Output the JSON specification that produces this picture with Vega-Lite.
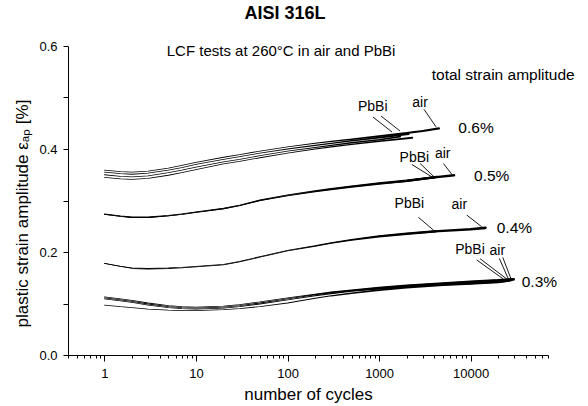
{
 "$schema": "https://vega.github.io/schema/vega-lite/v6.json",
 "width": 480, "height": 309,
 "autosize": "none",
 "padding": {"left": 68, "top": 46, "right": 40, "bottom": 51},
 "background": "white",
 "title": {"text": "AISI 316L", "fontSize": 18, "fontWeight": "bold", "font": "Liberation Sans", "anchor": "middle", "dx": -23, "offset": 17, "color": "black"},
 "config": {
  "view": {"stroke": null},
  "font": "Liberation Sans",
  "axis": {"grid": false, "domainColor": "black", "tickColor": "black", "labelColor": "black", "titleColor": "black", "labelFontSize": 13, "titleFontSize": 17, "titleFontWeight": "normal", "labelFont": "Liberation Sans", "titleFont": "Liberation Sans"}
 },
 "datasets": {
  "curves": [
   {"c":"a6_1","N":1,"v":0.359},{"c":"a6_1","N":1.5,"v":0.356},{"c":"a6_1","N":2,"v":0.355},{"c":"a6_1","N":3,"v":0.357},{"c":"a6_1","N":5,"v":0.363},{"c":"a6_1","N":7,"v":0.368},{"c":"a6_1","N":10,"v":0.374},{"c":"a6_1","N":20,"v":0.384},{"c":"a6_1","N":30,"v":0.389},{"c":"a6_1","N":50,"v":0.396},{"c":"a6_1","N":100,"v":0.404},{"c":"a6_1","N":200,"v":0.411},{"c":"a6_1","N":300,"v":0.415},{"c":"a6_1","N":500,"v":0.419},{"c":"a6_1","N":1000,"v":0.425},{"c":"a6_1","N":2000,"v":0.431},{"c":"a6_1","N":3000,"v":0.435},{"c":"a6_1","N":4500,"v":0.440},
   {"c":"a6_2","N":1,"v":0.355},{"c":"a6_2","N":1.5,"v":0.352},{"c":"a6_2","N":2,"v":0.351},{"c":"a6_2","N":3,"v":0.353},{"c":"a6_2","N":5,"v":0.359},{"c":"a6_2","N":7,"v":0.364},{"c":"a6_2","N":10,"v":0.370},{"c":"a6_2","N":20,"v":0.380},{"c":"a6_2","N":30,"v":0.385},{"c":"a6_2","N":50,"v":0.392},{"c":"a6_2","N":100,"v":0.400},{"c":"a6_2","N":200,"v":0.407},{"c":"a6_2","N":300,"v":0.411},{"c":"a6_2","N":500,"v":0.416},{"c":"a6_2","N":1000,"v":0.422},{"c":"a6_2","N":2100,"v":0.429},
   {"c":"a6_3","N":1,"v":0.350},{"c":"a6_3","N":1.5,"v":0.347},{"c":"a6_3","N":2,"v":0.346},{"c":"a6_3","N":3,"v":0.348},{"c":"a6_3","N":5,"v":0.354},{"c":"a6_3","N":7,"v":0.359},{"c":"a6_3","N":10,"v":0.365},{"c":"a6_3","N":20,"v":0.375},{"c":"a6_3","N":30,"v":0.380},{"c":"a6_3","N":50,"v":0.387},{"c":"a6_3","N":100,"v":0.396},{"c":"a6_3","N":200,"v":0.403},{"c":"a6_3","N":300,"v":0.407},{"c":"a6_3","N":500,"v":0.412},{"c":"a6_3","N":1000,"v":0.418},{"c":"a6_3","N":1700,"v":0.424},
   {"c":"a6_4","N":1,"v":0.345},{"c":"a6_4","N":1.5,"v":0.342},{"c":"a6_4","N":2,"v":0.341},{"c":"a6_4","N":3,"v":0.343},{"c":"a6_4","N":5,"v":0.349},{"c":"a6_4","N":7,"v":0.354},{"c":"a6_4","N":10,"v":0.360},{"c":"a6_4","N":20,"v":0.371},{"c":"a6_4","N":30,"v":0.376},{"c":"a6_4","N":50,"v":0.383},{"c":"a6_4","N":100,"v":0.392},{"c":"a6_4","N":200,"v":0.400},{"c":"a6_4","N":300,"v":0.404},{"c":"a6_4","N":500,"v":0.409},{"c":"a6_4","N":1000,"v":0.415},{"c":"a6_4","N":2300,"v":0.422},
   {"c":"a5_1","N":1,"v":0.274},{"c":"a5_1","N":1.5,"v":0.270},{"c":"a5_1","N":2,"v":0.268},{"c":"a5_1","N":3,"v":0.268},{"c":"a5_1","N":5,"v":0.271},{"c":"a5_1","N":7,"v":0.274},{"c":"a5_1","N":10,"v":0.278},{"c":"a5_1","N":20,"v":0.285},{"c":"a5_1","N":30,"v":0.291},{"c":"a5_1","N":50,"v":0.301},{"c":"a5_1","N":100,"v":0.311},{"c":"a5_1","N":200,"v":0.319},{"c":"a5_1","N":300,"v":0.323},{"c":"a5_1","N":500,"v":0.328},{"c":"a5_1","N":1000,"v":0.334},{"c":"a5_1","N":2000,"v":0.339},{"c":"a5_1","N":4000,"v":0.345},{"c":"a5_1","N":6600,"v":0.349},
   {"c":"a5_2","N":1,"v":0.273},{"c":"a5_2","N":1.5,"v":0.269},{"c":"a5_2","N":2,"v":0.267},{"c":"a5_2","N":3,"v":0.267},{"c":"a5_2","N":5,"v":0.270},{"c":"a5_2","N":7,"v":0.273},{"c":"a5_2","N":10,"v":0.277},{"c":"a5_2","N":20,"v":0.284},{"c":"a5_2","N":30,"v":0.290},{"c":"a5_2","N":50,"v":0.300},{"c":"a5_2","N":100,"v":0.309},{"c":"a5_2","N":200,"v":0.317},{"c":"a5_2","N":300,"v":0.321},{"c":"a5_2","N":500,"v":0.326},{"c":"a5_2","N":1000,"v":0.332},{"c":"a5_2","N":2000,"v":0.338},{"c":"a5_2","N":4000,"v":0.345},
   {"c":"a5_3","N":1,"v":0.273},{"c":"a5_3","N":1.5,"v":0.269},{"c":"a5_3","N":2,"v":0.267},{"c":"a5_3","N":3,"v":0.267},{"c":"a5_3","N":5,"v":0.270},{"c":"a5_3","N":7,"v":0.273},{"c":"a5_3","N":10,"v":0.277},{"c":"a5_3","N":20,"v":0.284},{"c":"a5_3","N":30,"v":0.290},{"c":"a5_3","N":50,"v":0.300},{"c":"a5_3","N":100,"v":0.310},{"c":"a5_3","N":200,"v":0.318},{"c":"a5_3","N":300,"v":0.322},{"c":"a5_3","N":500,"v":0.327},{"c":"a5_3","N":1000,"v":0.333},{"c":"a5_3","N":2000,"v":0.338},{"c":"a5_3","N":4300,"v":0.346},
   {"c":"a4_1","N":1,"v":0.178},{"c":"a4_1","N":1.5,"v":0.172},{"c":"a4_1","N":2,"v":0.169},{"c":"a4_1","N":3,"v":0.168},{"c":"a4_1","N":5,"v":0.169},{"c":"a4_1","N":7,"v":0.170},{"c":"a4_1","N":10,"v":0.172},{"c":"a4_1","N":20,"v":0.176},{"c":"a4_1","N":30,"v":0.182},{"c":"a4_1","N":50,"v":0.191},{"c":"a4_1","N":100,"v":0.203},{"c":"a4_1","N":200,"v":0.212},{"c":"a4_1","N":300,"v":0.218},{"c":"a4_1","N":500,"v":0.224},{"c":"a4_1","N":1000,"v":0.231},{"c":"a4_1","N":2000,"v":0.236},{"c":"a4_1","N":4000,"v":0.240},{"c":"a4_1","N":10000,"v":0.244},{"c":"a4_1","N":14500,"v":0.247},
   {"c":"a4_2","N":1,"v":0.178},{"c":"a4_2","N":1.5,"v":0.172},{"c":"a4_2","N":2,"v":0.168},{"c":"a4_2","N":3,"v":0.167},{"c":"a4_2","N":5,"v":0.168},{"c":"a4_2","N":7,"v":0.169},{"c":"a4_2","N":10,"v":0.171},{"c":"a4_2","N":20,"v":0.175},{"c":"a4_2","N":30,"v":0.181},{"c":"a4_2","N":50,"v":0.190},{"c":"a4_2","N":100,"v":0.202},{"c":"a4_2","N":200,"v":0.211},{"c":"a4_2","N":300,"v":0.217},{"c":"a4_2","N":500,"v":0.223},{"c":"a4_2","N":1000,"v":0.230},{"c":"a4_2","N":2000,"v":0.235},{"c":"a4_2","N":4150,"v":0.240},
   {"c":"a3_1","N":1,"v":0.113},{"c":"a3_1","N":1.5,"v":0.109},{"c":"a3_1","N":2,"v":0.106},{"c":"a3_1","N":3,"v":0.101},{"c":"a3_1","N":5,"v":0.096},{"c":"a3_1","N":7,"v":0.094},{"c":"a3_1","N":10,"v":0.093},{"c":"a3_1","N":20,"v":0.095},{"c":"a3_1","N":30,"v":0.098},{"c":"a3_1","N":50,"v":0.103},{"c":"a3_1","N":100,"v":0.111},{"c":"a3_1","N":200,"v":0.118},{"c":"a3_1","N":300,"v":0.122},{"c":"a3_1","N":500,"v":0.126},{"c":"a3_1","N":1000,"v":0.131},{"c":"a3_1","N":2000,"v":0.135},{"c":"a3_1","N":5000,"v":0.139},{"c":"a3_1","N":10000,"v":0.142},{"c":"a3_1","N":20000,"v":0.145},{"c":"a3_1","N":29500,"v":0.147},
   {"c":"a3_2","N":1,"v":0.111},{"c":"a3_2","N":1.5,"v":0.107},{"c":"a3_2","N":2,"v":0.104},{"c":"a3_2","N":3,"v":0.099},{"c":"a3_2","N":5,"v":0.094},{"c":"a3_2","N":7,"v":0.092},{"c":"a3_2","N":10,"v":0.091},{"c":"a3_2","N":20,"v":0.093},{"c":"a3_2","N":30,"v":0.096},{"c":"a3_2","N":50,"v":0.101},{"c":"a3_2","N":100,"v":0.109},{"c":"a3_2","N":200,"v":0.117},{"c":"a3_2","N":300,"v":0.121},{"c":"a3_2","N":500,"v":0.125},{"c":"a3_2","N":1000,"v":0.130},{"c":"a3_2","N":2000,"v":0.134},{"c":"a3_2","N":5000,"v":0.138},{"c":"a3_2","N":10000,"v":0.141},{"c":"a3_2","N":20000,"v":0.144},{"c":"a3_2","N":27700,"v":0.146},
   {"c":"a3_3","N":1,"v":0.109},{"c":"a3_3","N":1.5,"v":0.105},{"c":"a3_3","N":2,"v":0.102},{"c":"a3_3","N":3,"v":0.097},{"c":"a3_3","N":5,"v":0.092},{"c":"a3_3","N":7,"v":0.090},{"c":"a3_3","N":10,"v":0.089},{"c":"a3_3","N":20,"v":0.091},{"c":"a3_3","N":30,"v":0.094},{"c":"a3_3","N":50,"v":0.099},{"c":"a3_3","N":100,"v":0.107},{"c":"a3_3","N":200,"v":0.115},{"c":"a3_3","N":300,"v":0.119},{"c":"a3_3","N":500,"v":0.124},{"c":"a3_3","N":1000,"v":0.129},{"c":"a3_3","N":2000,"v":0.133},{"c":"a3_3","N":5000,"v":0.137},{"c":"a3_3","N":10000,"v":0.140},{"c":"a3_3","N":20000,"v":0.143},{"c":"a3_3","N":26500,"v":0.145},
   {"c":"a3_4","N":1,"v":0.097},{"c":"a3_4","N":1.5,"v":0.094},{"c":"a3_4","N":2,"v":0.092},{"c":"a3_4","N":3,"v":0.089},{"c":"a3_4","N":5,"v":0.087},{"c":"a3_4","N":7,"v":0.086},{"c":"a3_4","N":10,"v":0.086},{"c":"a3_4","N":20,"v":0.088},{"c":"a3_4","N":30,"v":0.090},{"c":"a3_4","N":50,"v":0.094},{"c":"a3_4","N":100,"v":0.101},{"c":"a3_4","N":200,"v":0.110},{"c":"a3_4","N":300,"v":0.115},{"c":"a3_4","N":500,"v":0.120},{"c":"a3_4","N":1000,"v":0.126},{"c":"a3_4","N":2000,"v":0.131},{"c":"a3_4","N":5000,"v":0.136},{"c":"a3_4","N":10000,"v":0.139},{"c":"a3_4","N":20000,"v":0.142},{"c":"a3_4","N":24000,"v":0.144}
  ],
  "notes": [
   {"k":"sub","t":"LCF tests at 260°C in air and PbBi","N":85,"v":0.59},
   {"k":"head","t":"total strain amplitude","N":3757,"v":0.543},
   {"k":"amp","t":"0.6%","N":7340,"v":0.440},
   {"k":"amp","t":"0.5%","N":10900,"v":0.3476},
   {"k":"amp","t":"0.4%","N":19290,"v":0.2472},
   {"k":"amp","t":"0.3%","N":36140,"v":0.1424},
   {"k":"lab","t":"PbBi","N":853,"v":0.4816},
   {"k":"lab","t":"air","N":2800,"v":0.490},
   {"k":"lab","t":"PbBi","N":2427,"v":0.382},
   {"k":"lab","t":"air","N":4960,"v":0.3897},
   {"k":"lab","t":"PbBi","N":2140,"v":0.2926},
   {"k":"lab","t":"air","N":7530,"v":0.2913},
   {"k":"lab","t":"PbBi","N":9850,"v":0.2039},
   {"k":"lab","t":"air","N":19590,"v":0.2019}
  ],
  "leaders": [
   {"N":859,"v":0.462,"N2":1384,"v2":0.433},
   {"N":1050,"v":0.464,"N2":1694,"v2":0.435},
   {"N":3097,"v":0.477,"N2":4190,"v2":0.443},
   {"N":2275,"v":0.370,"N2":3758,"v2":0.346},
   {"N":2800,"v":0.372,"N2":3981,"v2":0.346},
   {"N":5035,"v":0.372,"N2":6218,"v2":0.351},
   {"N":2685,"v":0.2674,"N2":3915,"v2":0.2427},
   {"N":9060,"v":0.2718,"N2":13210,"v2":0.249},
   {"N":11660,"v":0.1845,"N2":22750,"v2":0.1476},
   {"N":12680,"v":0.187,"N2":24790,"v2":0.1476},
   {"N":20570,"v":0.1878,"N2":25820,"v2":0.1476},
   {"N":22430,"v":0.1897,"N2":27650,"v2":0.1476}
  ]
 },
 "encoding": {
  "x": {"field": "N", "type": "quantitative",
        "scale": {"type": "log", "domain": [0.4, 70000], "nice": false},
        "axis": {"title": "number of cycles", "titlePadding": 6, "labelPadding": 6,
                 "values": [0.4,0.5,0.6,0.7,0.8,0.9,1,2,3,4,5,6,7,8,9,10,20,30,40,50,60,70,80,90,100,200,300,400,500,600,700,800,900,1000,2000,3000,4000,5000,6000,7000,8000,9000,10000,20000,30000,40000,50000,60000,70000],
                 "format": "d", "labelOverlap": false, "labelFlush": false,
                 "labelExpr": "abs(log(datum.value)/LN10 - round(log(datum.value)/LN10)) < 0.000001 ? datum.label : ''",
                 "tickSize": {"condition": {"test": "abs(log(datum.value)/LN10 - round(log(datum.value)/LN10)) < 0.000001", "value": 6}, "value": 3}}},
  "y": {"field": "v", "type": "quantitative",
        "scale": {"domain": [0, 0.6], "nice": false, "zero": false},
        "axis": {"title": "plastic strain amplitude εₐₚ [%]", "titlePadding": 7, "titleY": 167, "labelPadding": 6, "tickSize": 5,
                 "values": [0, 0.1, 0.2, 0.3, 0.4, 0.5, 0.6], "labelOverlap": false, "labelFlush": false,
                 "labelExpr": "round(datum.value*10)%2==0 ? format(datum.value,'.1f') : ''"}}
 },
 "layer": [
  {"data": {"name": "curves"},
   "mark": {"type": "trail", "color": "black"},
   "encoding": {"detail": {"field": "c"}, "order": {"field": "N", "type": "quantitative"},
                "size": {"field": "N", "type": "quantitative", "scale": {"type": "log", "domain": [100, 20000], "range": [0.8, 2.8], "clamp": true}, "legend": null}}},
  {"data": {"name": "leaders"},
   "mark": {"type": "rule", "color": "black", "strokeWidth": 0.9},
   "encoding": {"x2": {"field": "N2"}, "y2": {"field": "v2"}}},
  {"data": {"name": "notes"}, "transform": [{"filter": "datum.k=='sub'"}],
   "mark": {"type": "text", "fontSize": 15, "align": "center", "baseline": "middle", "color": "black"},
   "encoding": {"text": {"field": "t"}}},
  {"data": {"name": "notes"}, "transform": [{"filter": "datum.k=='head'"}],
   "mark": {"type": "text", "fontSize": 15.5, "align": "left", "baseline": "middle", "color": "black"},
   "encoding": {"text": {"field": "t"}}},
  {"data": {"name": "notes"}, "transform": [{"filter": "datum.k=='amp'"}],
   "mark": {"type": "text", "fontSize": 15.5, "align": "left", "baseline": "middle", "color": "black"},
   "encoding": {"text": {"field": "t"}}},
  {"data": {"name": "notes"}, "transform": [{"filter": "datum.k=='lab'"}],
   "mark": {"type": "text", "fontSize": 14, "align": "center", "baseline": "middle", "color": "black"},
   "encoding": {"text": {"field": "t"}}}
 ]
}
